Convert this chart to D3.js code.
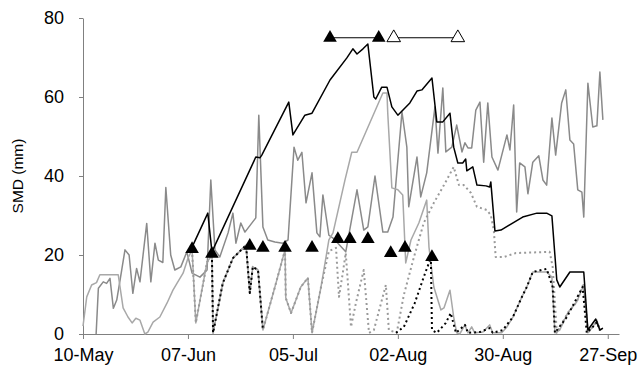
<!DOCTYPE html>
<html>
<head>
<meta charset="utf-8">
<script src="https://cdn.jsdelivr.net/npm/d3@7"></script>
<style>
    html, body { margin: 0; padding: 0; background: #fff; }
    .chart text { font-family: "Liberation Sans", Arial, sans-serif; }
</style>
</head>
<body>
<div class="chart"></div>
<script>
// every point is [days after 10-May, SMD in mm]
const smdBlack = [[29.1,22],[33.3,30.6],[34.4,20.8],[46.1,44.8],[47.2,44.6],[47.7,45.3],[54.9,58.7],[56,50.4],[59.2,55.4],[61.1,55.9],[65.9,64.3],[70.4,69.9],[72,72.2],[73.1,70.9],[74.7,72.2],[76,73.4],[77.6,60],[78.1,59.5],[79.7,62.5],[81.1,62.5],[82.4,57.5],[84,55.4],[87.2,58.5],[89.1,61.5],[90.4,61.8],[93.1,64.8],[94.4,53.7],[96,53.7],[97.9,55.9],[98.9,47.3],[100,43.3],[101.3,43.3],[102.1,44.3],[102.4,41.3],[104,42.3],[105.1,37.7],[107.5,37.5],[108.5,37.2],[108.8,38.5],[109.9,26.1],[111.5,26.3],[117.3,29.6],[121.1,30.6],[123.7,30.6],[125.1,29.9],[126.4,13.7],[127.2,11.9],[129.9,15.7],[133.6,15.7],[134.7,1],[136.8,3.8],[137.9,1],[138.7,1.5]]
// jagged grey line
const smdJagged = [[3.5,0],[4.1,11.6],[5.4,13.2],[6.3,12.8],[7.2,14.1],[8.1,6.5],[9,8.6],[9.9,13.7],[11.2,21.3],[12.3,20],[13.3,10.3],[14.3,16.6],[15.2,13.2],[17,28],[18.1,13.2],[19.2,23],[20.1,18.7],[21.3,18.1],[22.1,37.1],[23.4,20],[24.5,16.2],[26.1,17],[27.7,20.8],[29.1,15.4],[31.2,14.4],[33.1,16.2],[34.1,39],[35.2,21.3],[36.5,19.5],[38.7,25.6],[40,30.6],[40.8,23],[42.1,28.1],[43.2,25.8],[46.1,29.4],[46.9,55.4],[48,27.1],[49.3,23.8],[51.2,23.3],[53.3,23],[54.7,23.8],[56.3,47.3],[57.3,44],[58.4,46],[59.5,33.2],[61.1,40.8],[62.4,25.6],[63.2,24.6],[64,35.2],[65.6,25],[66.7,24.3],[70.1,20.8],[73.1,36.5],[74.9,26.3],[76,27.1],[77.9,40],[80,25.8],[81.3,25.8],[82.7,29.6],[85.1,56.2],[86.4,47.3],[86.9,32.2],[89.1,44.8],[90.1,34.7],[91.7,40.8],[93.9,57.5],[94.7,45.8],[96,62.3],[96.8,46.1],[98.4,47.3],[99.7,52.9],[100.5,49.1],[101.1,46.1],[101.9,48.4],[102.7,47.1],[103.7,47.1],[104.8,56.7],[105.9,58.7],[106.9,43.5],[108,58.5],[109.1,44.8],[110.7,41.5],[113.1,50.4],[113.9,46.6],[114.9,58],[115.7,30.9],[116.5,43.3],[117.9,42.3],[118.7,35.5],[120,43.5],[121.6,45.1],[122.7,39],[123.7,37.7],[125.1,54.7],[126.1,45.3],[127.7,58.5],[128.8,61.8],[129.9,49.1],[130.9,48.1],[132,36.5],[133.1,35.9],[133.6,29.6],[134.7,63.5],[136,52.4],[137.1,52.7],[137.9,66.3],[138.7,54.2]]
// light grey solid line
const smdGrey = [[0,2],[1,9.4],[2.3,12.4],[3.6,13],[4.5,15],[9.4,15],[10.7,6.6],[12,4.3],[13.1,2.8],[14.1,4],[15.2,3.5],[16.5,0],[17.3,0.5],[18.7,3],[20.5,4.3],[22.4,7.8],[24,11.1],[25.1,12.9],[26.7,15.4],[28,19.2],[29.1,21.3],[30.1,2.8],[33.1,18.2],[34.4,20],[34.7,0.3],[37.3,12.9],[40,19.2],[43.5,22.5],[44.5,10.4],[45.3,17],[46.7,16.2],[48,1],[51.2,11.9],[53.3,19.2],[53.9,21.3],[54.1,9.1],[55.5,5.3],[56.8,8.6],[58.1,11.9],[60,14.2],[61.1,0.3],[63.5,11.9],[65.6,23.8],[66.7,25.6],[69.9,39],[71.7,46],[73.1,46],[80,61],[81.1,61],[81.3,56],[82.4,37],[84,36.5],[85.3,35.2],[86.1,18],[87.5,23.8],[89.6,28.1],[91.7,33.9],[92.3,22],[93.6,11.9],[95.5,6.1],[96.3,6.6],[97.9,11.1],[98.9,4.3],[99.7,0.3],[100.5,0],[101.9,2.3],[102.7,0.3],[103.7,1.8],[104.5,0.3],[106.7,0.5],[108.5,2.3],[109.3,0.3],[111.7,0.3],[113.1,1.8],[114.7,4.3],[117.1,9.4],[118.4,11.9],[120,15.7],[123.7,15.7],[125.1,14.4],[125.9,0.3],[127.2,1],[129.3,5.3],[131.7,8.1],[133.6,12.4],[134.7,0.3],[136,1.8],[137.1,3.5],[137.9,1],[138.7,1.5]]
// grey dotted line
const smdGreyDot = [[29.1,21.3],[30.1,2.8],[33.1,18.2],[34.4,20],[34.7,0.3],[37.3,12.9],[40,19.2],[43.5,22.5],[44.5,10.4],[45.3,17],[46.7,16.2],[48,1],[51.2,11.9],[53.3,19.2],[53.9,21.3],[54.1,9.1],[55.5,5.3],[56.8,8.6],[58.1,11.9],[60,14.2],[61.1,0.3],[63.5,11.9],[65.6,21],[67.5,21.8],[68.3,9.4],[69.3,15.4],[70.1,20.5],[71.5,1.8],[72.8,7.8],[74.9,16.2],[76.3,0.3],[77.6,1],[80.8,12.4],[81.6,1],[83.7,0.3],[85.6,9.9],[88.3,19.5],[90.9,28.1],[93.6,33.2],[96.3,37.7],[98.9,42.3],[100.3,37.7],[101.6,37.7],[103.5,35.7],[105.1,32.2],[107.7,31.4],[108.8,30.1],[109.6,26.3],[110.1,19.5],[112.3,19.5],[115.5,20.5],[124.5,20.8],[125.3,17],[125.9,8.1],[126.4,0.3],[129.3,5.3],[131.7,8.1],[133.6,12.9],[134.7,0.3],[136,1.8],[137.1,3],[137.9,1]]
// black dotted line, two pieces
const smdBlackDotA = [[34.4,20],[34.7,0.3],[37.3,12.9],[40,19.2],[43.5,22.5],[44.5,10.4],[45.3,17],[46.7,16.2],[48,1]]
const smdBlackDotB = [[83.5,0.3],[85.6,1.8],[88.5,7.8],[90.9,14.4],[92.3,18],[92.8,19.5],[93.1,1],[94.4,0.3],[96.8,2.8],[98.1,5.3],[99.5,0.3],[101.9,2.3],[102.7,0.3],[105.9,0.5],[108.5,1.5],[109.3,0.3],[112,1],[114.7,4.3],[117.1,9.4],[118.4,11.9],[120,15.7],[123.7,16.5],[125.3,11.9],[125.9,0.3],[129.1,4.3],[133.3,11.9],[134.4,0.3],[136,1.8],[137.1,3],[137.9,1]]
// triangles
const irrigDays = [29.1, 34.4, 44.5, 48, 53.9, 61.1, 68, 71.2, 76, 82.1, 85.9, 93.1]
const irrigVals = [21.5, 20.3, 22.3, 21.8, 21.8, 21.8, 24, 24, 24, 20.5, 21.8, 19.5]
const periodFilled = [65.9, 78.9]
const periodOpen = [82.9, 100]
const periodVal = 75
// axes
const tickDates = ["2003-05-10", "2003-06-07", "2003-07-05", "2003-08-02", "2003-08-30", "2003-09-27"]
const yTicks = [0, 20, 40, 60, 80]

let width = 641
let height = 379
let day0 = Date.UTC(2003, 4, 10)
let toDate = (d) => new Date(day0 + d * 864e5)

let svg = d3.select(".chart")
    .append("svg")
    .attr("width", width)
    .attr("height", height)

let x = d3.scaleUtc()
    .domain([toDate(0), toDate(143)])
    .range([83, 619])
let y = d3.scaleLinear()
    .domain([0, 80])
    .range([334, 18])

//坐标轴
let xAxis = svg.append("g")
    .attr("transform", `translate(0,${y(0)})`)
    .call(d3.axisBottom(x)
        .tickValues(tickDates.map((s) => new Date(s)))
        .tickFormat(d3.utcFormat("%d-%b"))
        .tickSize(5)
        .tickSizeOuter(0)
        .tickPadding(9))
let yAxis = svg.append("g")
    .attr("transform", `translate(${x(toDate(0))},0)`)
    .call(d3.axisLeft(y)
        .tickValues(yTicks)
        .tickSize(4)
        .tickSizeOuter(0)
        .tickPadding(15))
svg.selectAll(".domain, .tick line").attr("stroke", "#808080")
svg.selectAll(".tick text").attr("font-size", 18).attr("fill", "#000")

svg.append("text")
    .attr("transform", `translate(23,${(y(0) + y(80)) / 2}) rotate(-90)`)
    .attr("text-anchor", "middle")
    .attr("font-size", 15.5)
    .text("SMD (mm)")

//折线
let line = d3.line()
    .x((d) => x(toDate(d[0])))
    .y((d) => y(d[1]))
let lines = [
    { data: smdJagged, stroke: "#8a8a8a", width: 1.5, dash: null },
    { data: smdGrey, stroke: "#a8a8a8", width: 1.5, dash: null },
    { data: smdGreyDot, stroke: "#9a9a9a", width: 2, dash: "2,3" },
    { data: smdBlackDotA, stroke: "#000", width: 2, dash: "2,3" },
    { data: smdBlackDotB, stroke: "#000", width: 2, dash: "2,3" },
    { data: smdBlack, stroke: "#000", width: 1.5, dash: null }
]
svg.append("g")
    .selectAll("path")
    .data(lines)
    .enter()
    .append("path")
    .attr("fill", "none")
    .attr("stroke", (d) => d.stroke)
    .attr("stroke-width", (d) => d.width)
    .attr("stroke-dasharray", (d) => d.dash)
    .attr("stroke-linejoin", "round")
    .attr("d", (d) => line(d.data))

//三角形
let tri = d3.symbol().type(d3.symbolTriangle).size(80)
svg.append("g")
    .selectAll("path")
    .data(irrigDays)
    .enter()
    .append("path")
    .attr("transform", (d, i) => `translate(${x(toDate(d))},${y(irrigVals[i])})`)
    .attr("d", tri)
    .attr("fill", "#000")

let periodG = svg.append("g")
periodG.selectAll("line")
    .data([periodFilled, periodOpen])
    .enter()
    .append("line")
    .attr("x1", (d) => x(toDate(d[0])))
    .attr("x2", (d) => x(toDate(d[1])))
    .attr("y1", y(periodVal))
    .attr("y2", y(periodVal))
    .attr("stroke", "#000")
    .attr("stroke-width", 1)
periodG.selectAll("path.filled")
    .data(periodFilled)
    .enter()
    .append("path")
    .attr("class", "filled")
    .attr("transform", (d) => `translate(${x(toDate(d))},${y(periodVal)})`)
    .attr("d", tri)
    .attr("fill", "#000")
periodG.selectAll("path.open")
    .data(periodOpen)
    .enter()
    .append("path")
    .attr("class", "open")
    .attr("transform", (d) => `translate(${x(toDate(d))},${y(periodVal)})`)
    .attr("d", tri)
    .attr("fill", "#fff")
    .attr("stroke", "#000")
    .attr("stroke-width", 1)
</script>
</body>
</html>
